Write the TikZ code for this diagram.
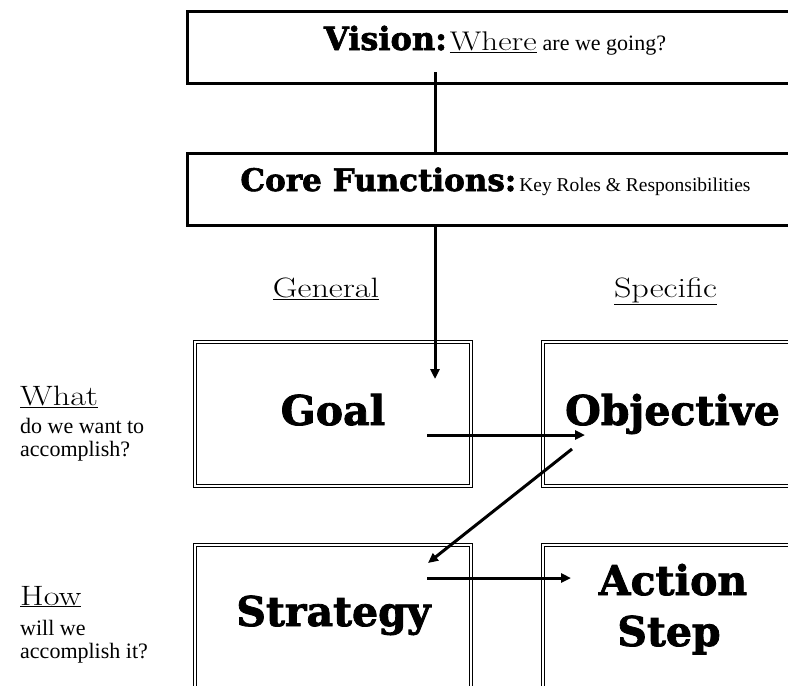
\documentclass[tikz,border=0pt]{standalone}
\usepackage{fontspec}
\newfontfamily\slabfont{DejaVu Serif}[BoldFeatures={FakeBold=2}]
\newfontfamily\timesfont{Liberation Serif}
\newfontfamily\widefont{Latin Modern Roman}[FakeStretch=1.22]
\usetikzlibrary{arrows.meta}

\begin{document}
\begin{tikzpicture}[x=1pt, y=-1pt,
    wide/.style={draw, line width=3pt, minimum width=616pt, minimum height=72pt},
    dbl/.style={draw, double, line width=1pt, double distance=2pt, minimum width=276pt, minimum height=143.5pt},
    flow/.style={line width=3pt, -{Triangle[length=10pt, width=9pt]}},
    bigword/.style={font=\slabfont\bfseries\fontsize{41}{49}\selectfont, anchor=base, inner sep=0pt},
    head/.style={font=\widefont\fontsize{28}{34}\selectfont, anchor=base, inner sep=0pt},
    side/.style={font=\timesfont\fontsize{22}{26}\selectfont, anchor=base west, inner sep=0pt}]

        \useasboundingbox (0,0) rectangle (788,686);

        \node (vision) [wide] at (495,47.5) {};
        \node (core) [wide] at (495,189) {};
        \node (goal) [dbl] at (333,413.75) {};
        \node (objective) [dbl] at (681,413.75) {};
        \node (strategy) [dbl] at (333,616.75) {};
        \node (action) [dbl] at (681,616.75) {};

        \node (visiontxt) [anchor=base, inner sep=0pt] at (495,50)
            {{\slabfont\bfseries\fontsize{32}{38}\selectfont Vision:}\hspace{3pt}{\widefont\fontsize{27}{32}\selectfont\underline{Where}}\hspace{6pt}{\timesfont\fontsize{22}{26}\selectfont are we going?}};
        \node (coretxt) [anchor=base, inner sep=0pt] at (495.5,191)
            {{\slabfont\bfseries\fontsize{31}{37}\selectfont Core Functions:}\hspace{3pt}{\timesfont\fontsize{19.5}{24}\selectfont Key Roles \& Responsibilities}};

        \node (general) [head] at (326,297) {\underline{General}};
        \node (specific) [head] at (665.5,297) {\underline{Specific}};

        \node (goaltxt) [bigword] at (333,425) {Goal};
        \node (objtxt) [bigword] at (672.5,425) {Objective};
        \node (strattxt) [bigword] at (333.5,626) {Strategy};
        \node (acttxt) [bigword] at (673,595) {Action};
        \node (steptxt) [bigword] at (669,646) {Step};

        \node (what) [head, anchor=base west] at (20,405) {\underline{What}};
        \node (what1) [side] at (20,433) {do we want to};
        \node (what2) [side] at (20,456) {accomplish?};
        \node (how) [head, anchor=base west] at (20,605) {\underline{How}};
        \node (how1) [side] at (20,635) {will we};
        \node (how2) [side] at (20,658) {accomplish it?};

        \coordinate (visionfoot) at (435,72);
        \coordinate (goalin) at (435,379);
        \coordinate (goalout) at (427,435);
        \coordinate (objin) at (585,435);
        \coordinate (objout) at (572,449);
        \coordinate (stratin) at (428,563);
        \coordinate (stratout) at (427,578);
        \coordinate (actin) at (571,578);

        \draw[line width=3pt] (visionfoot) -- (visionfoot |- core.north);
        \draw[flow] (core.south -| goalin) -- (goalin);
        \draw[flow] (goalout) -- (objin);
        \draw[flow] (objout) -- (stratin);
        \draw[flow] (stratout) -- (actin);

    \end{tikzpicture}
\end{document}
